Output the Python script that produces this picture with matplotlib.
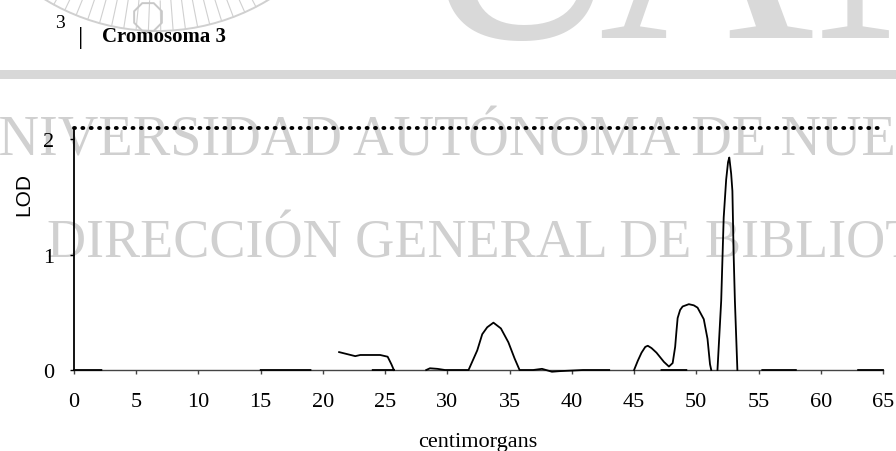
import numpy as np
import matplotlib
matplotlib.use("Agg")
import matplotlib.pyplot as plt
from matplotlib.patches import Arc, RegularPolygon, Rectangle
from matplotlib.lines import Line2D

# ---------------- data ----------------
nan = float("nan")
cm = [0.0, 2.2, nan,
      15.0, 19.0, nan,
      21.3, 22.6, 23.0, 24.6, 25.2, 25.5, 25.7, nan,
      24.0, 25.7, nan,
      28.3, 28.6, 29.2, 29.8, 31.7, 32.4, 32.8, 33.2, 33.7, 34.3, 34.9, 35.4, 35.8,
      36.9, 37.6, 38.4, 39.0, 40.0, 40.9, 43.0, nan,
      45.0, 45.3, 45.6, 45.9, 46.1, 46.4, 46.8, 47.4, 47.8, 48.1, 48.3, 48.4, 48.5,
      48.7, 48.9, 49.4, 49.8, 50.1, 50.6, 50.9, 51.1, 51.2, nan,
      47.2, 49.2, nan,
      51.7, 51.85, 52.0, 52.2, 52.4, 52.55, 52.65, 52.8, 52.9, 53.0, 53.1, 53.2, 53.3, nan,
      55.3, 58.0, nan,
      63.0, 65.0]
lod = [0.0, 0.0, nan,
       0.0, 0.0, nan,
       0.155, 0.12, 0.13, 0.13, 0.115, 0.05, 0.0, nan,
       0.0, 0.0, nan,
       0.0, 0.015, 0.01, 0.0, 0.0, 0.17, 0.31, 0.37, 0.41, 0.36, 0.24, 0.1, 0.0,
       0.0, 0.01, -0.015, -0.01, -0.005, 0.0, 0.0, nan,
       0.0, 0.08, 0.15, 0.2, 0.21, 0.19, 0.15, 0.07, 0.03, 0.06, 0.2, 0.33, 0.45,
       0.52, 0.55, 0.57, 0.56, 0.54, 0.44, 0.27, 0.05, 0.0, nan,
       0.0, 0.0, nan,
       0.0, 0.3, 0.6, 1.32, 1.65, 1.80, 1.84, 1.70, 1.55, 1.0, 0.6, 0.3, 0.0, nan,
       0.0, 0.0, nan,
       0.0, 0.0]
threshold = 2.1
xticks = list(range(0, 70, 5))
yticks = [0, 1, 2]
title = "Cromosoma 3"
xlabel = "centimorgans"
ylabel = "LOD"

# ---------------- figure ----------------
W, H = 896, 452
fig = plt.figure(figsize=(W / 100, H / 100), dpi=100)
fig.patch.set_facecolor("white")

def fx(px):
    return px / W

def fy(py):
    return 1 - py / H

serif = "Liberation Serif"
wm = "#d0d0d0"

# watermark (background)
fig.text(fx(-42), fy(155), "UNIVERSIDAD AUTÓNOMA DE NUEVO LEÓN", family=serif,
         fontsize=40.5, color=wm, ha="left", va="baseline", zorder=-5)
fig.text(fx(47), fy(257), "DIRECCIÓN GENERAL DE BIBLIOTECAS", family=serif,
         fontsize=39, color=wm, ha="left", va="baseline", zorder=-5)
fig.text(fx(521), fy(38), "U", family=serif, fontsize=215, color="#d9d9d9",
         ha="center", va="baseline", zorder=-5)
fig.text(fx(598), fy(38), "ANL", family=serif, fontsize=215, color="#d9d9d9",
         ha="left", va="baseline", zorder=-5)
fig.add_artist(Rectangle((0, fy(80)), 1, 9 / H, transform=fig.transFigure,
                         facecolor="#d8d8d8", edgecolor="none", zorder=-5))
# logo ring
tr = fig.dpi_scale_trans
cx, cy, r = 1.57, (H + 183) / 100, 2.15
fig.add_artist(Arc((cx, cy), 2 * r, 2 * r, theta1=225, theta2=315, transform=tr,
                   color=wm, lw=1.4, zorder=-5))
for a in np.arange(238, 304, 3.3):
    t = np.deg2rad(a)
    fig.add_artist(Line2D([cx + 1.85 * np.cos(t), cx + r * np.cos(t)],
                          [cy + 1.85 * np.sin(t), cy + r * np.sin(t)],
                          transform=tr, color=wm, lw=0.8, zorder=-5))
fig.add_artist(RegularPolygon((1.48, (H - 18) / 100), 8, radius=0.15,
                              orientation=np.pi / 8, transform=tr, fill=False,
                              ec="#c8c8c8", lw=1.4, zorder=-5))

# axes
ax = fig.add_axes([fx(74), fy(371), 809 / W, 242.5 / H])
ax.set_facecolor("none")
ax.plot(cm, lod, color="black", lw=1.3, clip_on=False, zorder=3)
ax.axhline(threshold, color="black", lw=2.8, dashes=(0.25, 1.9),
           dash_capstyle="round", clip_on=False, zorder=3)
ax.set_xlim(0, 65)
ax.set_ylim(0, threshold)
for s in ("top", "right"):
    ax.spines[s].set_visible(False)
ax.spines["left"].set_linewidth(1.3)
ax.spines["left"].set_color("black")
ax.spines["bottom"].set_linewidth(1.0)
ax.spines["bottom"].set_color("#444444")
ax.set_xticks(xticks)
ax.set_xticklabels([str(v) for v in xticks], family=serif, fontsize=16)
ax.set_yticks(yticks)
ax.set_yticklabels([str(v) for v in yticks], family=serif, fontsize=16)
ax.tick_params(axis="x", direction="out", length=3, width=1, pad=13, color="#444444")
ax.tick_params(axis="y", direction="out", length=3, width=1, pad=11)

fig.text(fx(478), fy(447), xlabel, family=serif, fontsize=16, ha="center", va="baseline")
fig.text(fx(24), fy(195), ylabel, family="Liberation Sans", fontsize=15,
         rotation=90, ha="center", va="center")

# header
fig.text(fx(55), fy(28), "3", family=serif, fontsize=14, ha="left", va="baseline")
fig.text(fx(78), fy(44), "|", family=serif, fontsize=19, ha="left", va="baseline")
fig.text(fx(102), fy(42), title, family=serif, fontsize=15, fontweight="bold",
         ha="left", va="baseline")

fig.savefig("out.png", dpi=100)
